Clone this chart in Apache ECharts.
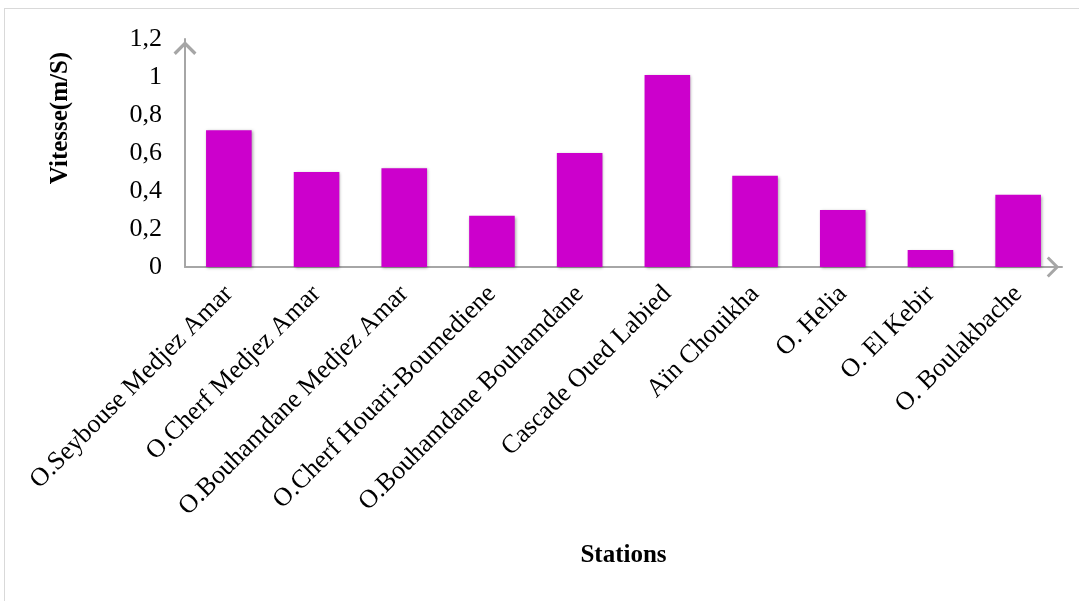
<!DOCTYPE html>
<html>
<head>
<meta charset="utf-8">
<script src="https://cdn.jsdelivr.net/npm/echarts@6/dist/echarts.min.js"></script>
<style>
  html, body { margin: 0; padding: 0; background: #fff; overflow: hidden; }
  #frame { position: absolute; left: 4px; top: 8px; width: 1200px; height: 700px; border: 1px solid #d9d9d9; box-sizing: border-box; }
  #chart { position: absolute; left: 0; top: 0; width: 1079px; height: 601px; }
</style>
</head>
<body>
<div id="frame"></div>
<div id="chart"></div>
<script>
// Flow velocity per gauging station
const stations = [
  'O.Seybouse Medjez Amar',
  'O.Cherf Medjez Amar',
  'O.Bouhamdane Medjez Amar',
  'O.Cherf Houari-Boumediene',
  'O.Bouhamdane Bouhamdane',
  'Cascade Oued Labied',
  'Aïn Chouikha',
  'O. Helia',
  'O. El Kebir',
  'O. Boulakbache'
];
const vitesse = [0.72, 0.50, 0.52, 0.27, 0.60, 1.01, 0.48, 0.30, 0.09, 0.38];
const yTickLabels = ['0', '0,2', '0,4', '0,6', '0,8', '1', '1,2'];

const serif = '"Liberation Serif", "Times New Roman", serif';
const axisGray = '#a6a6a6';
// open chevron used as the axis arrow head (points up in its own frame)
const chevron = 'path://M0,10 L10,0 L20,10 L18,12 L10,4 L2,12 Z';

const chart = echarts.init(document.getElementById('chart'), null, { renderer: 'canvas' });
chart.setOption({
  animation: false,
  backgroundColor: 'transparent',
  grid: { left: 185, right: 17, top: 39, bottom: 334, containLabel: false },
  xAxis: {
    type: 'category',
    data: stations,
    name: 'Stations',
    nameLocation: 'middle',
    nameGap: 276,
    nameTextStyle: { fontFamily: serif, fontWeight: 'bold', fontSize: 25, color: '#000' },
    axisLine: {
      show: true,
      lineStyle: { color: axisGray, width: 2 },
      symbol: ['none', chevron],
      symbolSize: [21, 19],
      symbolOffset: [0, -9]
    },
    axisTick: { show: false },
    axisLabel: {
      rotate: 45,
      margin: 23,
      interval: 0,
      fontFamily: serif,
      fontSize: 26,
      color: '#000'
    }
  },
  yAxis: {
    type: 'value',
    min: 0,
    max: 1.2,
    interval: 0.2,
    name: 'Vitesse(m/S)',
    nameLocation: 'middle',
    nameGap: 112,
    nameRotate: 90,
    nameTextStyle: { fontFamily: serif, fontWeight: 'bold', fontSize: 25, color: '#000', padding: [0, 0, 0, 70] },
    axisLine: {
      show: true,
      lineStyle: { color: axisGray, width: 2 },
      symbol: ['none', chevron],
      symbolSize: [23, 19],
      symbolOffset: [0, -9]
    },
    axisTick: { show: false },
    splitLine: { show: false },
    axisLabel: {
      margin: 23,
      fontFamily: serif,
      fontSize: 26,
      color: '#000',
      formatter: (v, i) => yTickLabels[i]
    }
  },
  series: [{
    type: 'bar',
    data: vitesse,
    barWidth: '52%',
    itemStyle: {
      color: '#cc00cc',
      shadowColor: 'rgba(0,0,0,0.35)',
      shadowBlur: 3,
      shadowOffsetX: 1,
      shadowOffsetY: 1
    }
  }]
});
</script>
</body>
</html>
